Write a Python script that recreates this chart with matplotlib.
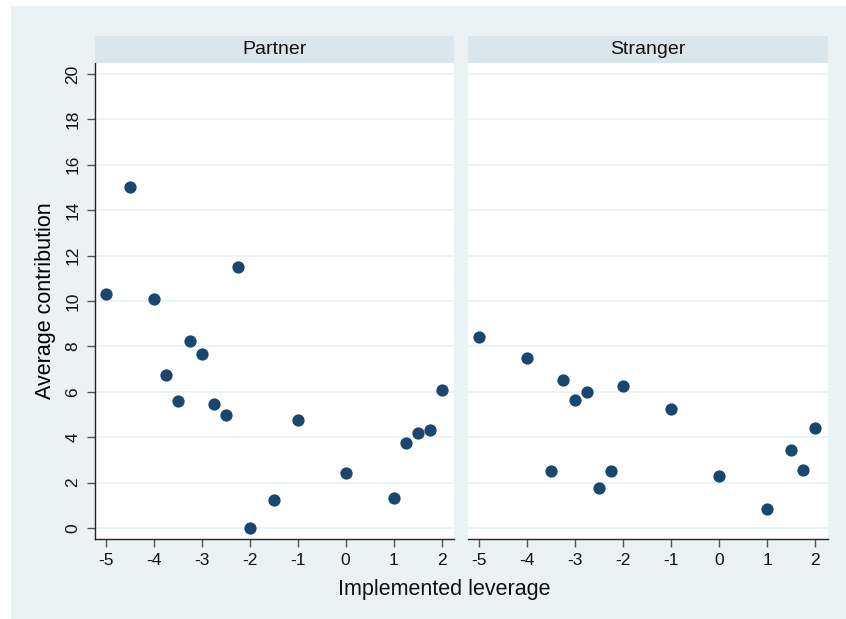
import matplotlib
matplotlib.use("Agg")
import matplotlib.pyplot as plt
from matplotlib.patches import Rectangle

plt.rcParams['font.family'] = ['Liberation Sans', 'DejaVu Sans']

# Average contribution by implemented leverage, one panel per matching
panels = ['Partner', 'Stranger']

partner_x = [-5, -4.5, -4, -3.75, -3.5, -3.25, -3, -2.75, -2.5, -2.25,
             -2, -1.5, -1, 0, 1, 1.25, 1.5, 1.75, 2]
partner_y = [10.3, 15.0, 10.1, 6.75, 5.58, 8.24, 7.68, 5.48, 4.99, 11.5,
             0.0, 1.23, 4.74, 2.42, 1.32, 3.74, 4.2, 4.31, 6.06]

stranger_x = [-5, -4, -3.5, -3.25, -3, -2.75, -2.5, -2.25, -2, -1,
              0, 1, 1.5, 1.75, 2]
stranger_y = [8.41, 7.49, 2.51, 6.5, 5.64, 6.01, 1.76, 2.51, 6.26, 5.24,
              2.31, 0.82, 3.43, 2.55, 4.39]

xticks = [-5, -4, -3, -2, -1, 0, 1, 2]
yticks = [0, 2, 4, 6, 8, 10, 12, 14, 16, 18, 20]

bg = '#EAF2F3'
strip = '#D9E6EB'
navy = '#1A476F'

W, H = 846, 619
fig = plt.figure(figsize=(W / 100, H / 100), dpi=100)
fig.patch.set_facecolor('white')
fig.patches.append(Rectangle((11 / W, 0), 1 - 11 / W, 1 - 6 / H,
                             transform=fig.transFigure, facecolor=bg,
                             edgecolor='none', zorder=-10))

bottom = 1 - 539 / H
height = (539 - 63) / H
strip_h = (63 - 36) / H
lefts = [94.5 / W, 468 / W]
width = 359.5 / W

data = [(partner_x, partner_y), (stranger_x, stranger_y)]
for i, (name, (xs, ys)) in enumerate(zip(panels, data)):
    ax = fig.add_axes([lefts[i], bottom, width, height])
    ax.set_facecolor('white')
    ax.scatter(xs, ys, s=78, color=navy, zorder=3, linewidths=0)
    ax.set_xlim(-5.23, 2.26)
    ax.set_ylim(-0.48, 20.48)
    ax.set_xticks(xticks)
    ax.set_xticklabels([str(t) for t in xticks], fontsize=12.5)
    ax.set_yticks(yticks)
    ax.grid(axis='y', color=bg, linewidth=1.2, zorder=0)
    ax.grid(axis='x', visible=False)
    for s in ['top', 'right']:
        ax.spines[s].set_visible(False)
    ax.spines['bottom'].set_color('#222222')
    ax.spines['bottom'].set_linewidth(1)
    ax.tick_params(axis='both', length=6, width=1, color='#555555',
                   labelcolor='#111111', pad=4)
    if i == 0:
        ax.spines['left'].set_color('#222222')
        ax.spines['left'].set_linewidth(1)
        ax.set_yticklabels([str(t) for t in yticks], fontsize=12.5,
                           rotation=90, va='center')
        ax.set_ylabel('Average contribution', fontsize=15.5, labelpad=7)
    else:
        ax.spines['left'].set_visible(False)
        ax.tick_params(axis='y', left=False, labelleft=False)

    # facet header strip
    sax = fig.add_axes([lefts[i], bottom + height, width, strip_h])
    sax.set_facecolor(strip)
    sax.set_xticks([])
    sax.set_yticks([])
    for s in sax.spines.values():
        s.set_visible(False)
    sax.text(0.5, 0.5, name, ha='center', va='center', fontsize=14,
             color='#111111', transform=sax.transAxes)

fig.text(444 / W, 1 - 589 / H, 'Implemented leverage',
         ha='center', va='center', fontsize=15.5, color='#111111')

fig.savefig('out.png', dpi=100, facecolor='white')
